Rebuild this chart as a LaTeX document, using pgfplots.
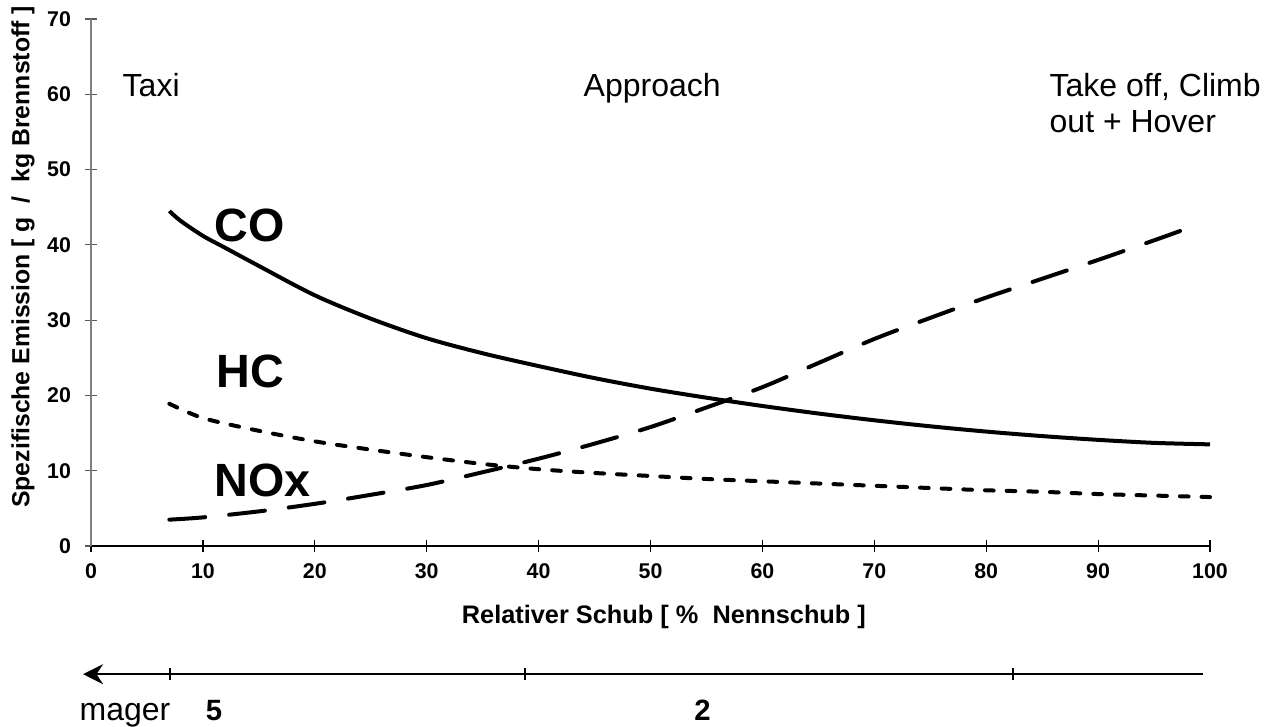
\documentclass[border=0pt]{standalone}
\usepackage{fontspec}
\setmainfont{Liberation Sans}
\usepackage{pgfplots}
\pgfplotsset{compat=1.18}
\usetikzlibrary{arrows.meta}

\pgfplotstableread{
x y
7 44.5
8 43.2
10 41.2
12 39.6
15 37.2
20 33.3
25 30.2
30 27.6
35 25.6
40 23.9
45 22.3
50 20.9
55 19.7
60 18.6
65 17.6
70 16.7
75 15.9
80 15.2
85 14.6
90 14.1
95 13.7
100 13.5
}\CO

\pgfplotstableread{
x y
7 18.9
10 17.0
15 15.3
20 13.9
25 12.8
30 11.8
35 10.9
40 10.2
45 9.7
50 9.3
55 8.9
60 8.6
65 8.3
70 8.0
75 7.7
80 7.4
85 7.2
90 6.9
95 6.7
100 6.5
}\HC

\pgfplotstableread{
x y
7 3.5
10 3.8
15 4.6
20 5.6
25 6.8
30 8.1
35 9.8
40 11.6
45 13.6
50 15.8
55 18.4
60 21.1
65 24.3
70 27.5
75 30.3
80 33.0
85 35.5
90 38.0
95 40.6
98 42.2
}\NOX

\begin{document}
\begin{tikzpicture}
\path[use as bounding box] (-68.25pt,-135pt) rectangle (892.5pt,409.5pt);
\begin{axis}[
  at={(0pt,0pt)}, anchor=south west,
  width=839.25pt, height=395.25pt, scale only axis,
  xmin=0, xmax=100, ymin=0, ymax=70,
  axis lines=left, axis line style={-},
  x axis line style={black, line width=1pt},
  y axis line style={gray, line width=1.3pt},
  xtick={0,10,...,100}, ytick={0,10,...,70},
  tick align=center, major tick length=9pt,
  xtick style={black, line width=0.9pt},
  ytick style={gray!70!black, line width=0.9pt},
  ticklabel style={font=\fontsize{16}{19}\selectfont\bfseries},
  yticklabel style={xshift=-7pt},
  xticklabel style={yshift=-5pt},
  /pgf/number format/assume math mode=true,
  clip=false,
]
\addplot[black, line width=3pt, smooth] table {\CO};
\addplot[black, line width=3pt, smooth, line cap=round, dash pattern=on 6.5pt off 9.75pt] table {\HC};
\addplot[black, line width=3pt, smooth, line cap=round, dash pattern=on 27pt off 18pt] table {\NOX};

\node[font=\fontsize{24}{28}\selectfont, anchor=base west] at (axis cs:2.41,59.7) {Taxi};
\node[font=\fontsize{24}{28}\selectfont, anchor=base west] at (axis cs:43.61,59.7) {Approach};
\node[font=\fontsize{24}{28}\selectfont, anchor=base west] at (axis cs:85.25,59.7) {Take off, Climb};
\node[font=\fontsize{24}{28}\selectfont, anchor=base west] at (axis cs:85.25,54.9) {out + Hover};

\node[font=\fontsize{35}{40}\selectfont\bfseries, anchor=base west] at (axis cs:10.63,40.5) {CO};
\node[font=\fontsize{35}{40}\selectfont\bfseries, anchor=base west] at (axis cs:10.81,21.0) {HC};
\node[font=\fontsize{35}{40}\selectfont\bfseries, anchor=base west] at (axis cs:10.63,6.56) {NOx};

\node[font=\fontsize{19}{22}\selectfont\bfseries, anchor=base] at (axis cs:51.2,-10.24) {Relativer Schub [ \% \ Nennschub ]};
\node[font=\fontsize{18.6}{22}\selectfont\bfseries, anchor=base, rotate=90] at (axis cs:-5.51,38.4) {Spezifische Emission [ g \ / \ kg Brennstoff ]};

\draw[black, line width=1.5pt, {Stealth[length=15pt, width=15pt]}-] (axis cs:-0.71,-17.02) -- (axis cs:99.37,-17.02);
\draw[black, line width=1pt] (axis cs:7.06,-16.22) -- (axis cs:7.06,-17.82);
\draw[black, line width=1pt] (axis cs:38.78,-16.22) -- (axis cs:38.78,-17.82);
\draw[black, line width=1pt] (axis cs:82.39,-16.22) -- (axis cs:82.39,-17.82);

\node[font=\fontsize{24}{28}\selectfont, anchor=base west] at (axis cs:-1.43,-23.14) {mager};
\node[font=\fontsize{22}{26}\selectfont\bfseries, anchor=base] at (axis cs:10.99,-23.14) {5};
\node[font=\fontsize{22}{26}\selectfont\bfseries, anchor=base] at (axis cs:54.65,-23.14) {2};
\end{axis}
\end{tikzpicture}
\end{document}
